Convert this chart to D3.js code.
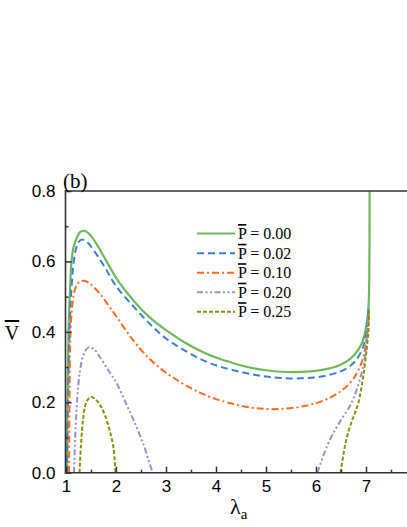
<!DOCTYPE html>
<html><head><meta charset="utf-8">
<script src="https://cdn.jsdelivr.net/npm/d3@7"></script>
<style>body{margin:0;background:#fff}svg{display:block}</style>
</head><body>
<script>
// ---- data ----
const seriesNames = ["0.00", "0.02", "0.10", "0.20", "0.25"];
const p000 = [[1.02,0],[1.03,0.2],[1.05,0.4],[1.08,0.52],[1.11,0.6],[1.15,0.64],[1.21,0.665],[1.28,0.683],[1.36,0.687],[1.45,0.68],[1.6,0.652],[1.8,0.603],[2.0,0.554],[2.25,0.506],[2.5,0.465],[2.75,0.432],[3.0,0.405],[3.35,0.372],[3.7,0.345],[4.0,0.327],[4.35,0.311],[4.7,0.298],[5.0,0.291],[5.4,0.286],[5.9,0.288],[6.2,0.294],[6.48,0.306],[6.7,0.325],[6.85,0.35],[6.95,0.38],[7.02,0.43],[7.05,0.47],[7.065,0.55],[7.07,0.65],[7.072,0.82]];
const p002 = [[1.02,0],[1.04,0.2],[1.07,0.4],[1.1,0.5],[1.14,0.58],[1.19,0.63],[1.25,0.655],[1.33,0.662],[1.42,0.655],[1.6,0.622],[1.8,0.578],[2.0,0.53],[2.35,0.472],[2.68,0.422],[3.0,0.381],[3.35,0.349],[3.7,0.322],[4.0,0.305],[4.35,0.291],[4.7,0.28],[5.0,0.273],[5.3,0.269],[5.7,0.268],[6.1,0.273],[6.48,0.287],[6.7,0.305],[6.85,0.33],[6.95,0.36],[7.01,0.4],[7.04,0.44],[7.055,0.47]];
const p010 = [[1.06,0],[1.07,0.2],[1.09,0.4],[1.13,0.48],[1.19,0.525],[1.27,0.542],[1.36,0.545],[1.45,0.54],[1.55,0.528],[1.68,0.508],[1.85,0.475],[2.0,0.445],[2.35,0.375],[2.68,0.322],[3.0,0.284],[3.35,0.252],[3.7,0.226],[4.0,0.209],[4.35,0.195],[4.7,0.185],[5.0,0.181],[5.3,0.181],[5.68,0.187],[6.1,0.202],[6.48,0.23],[6.7,0.258],[6.85,0.292],[6.95,0.33],[7.01,0.38],[7.05,0.43],[7.06,0.46]];
const p020a = [[1.16,0],[1.19,0.12],[1.23,0.22],[1.28,0.29],[1.35,0.335],[1.45,0.356],[1.55,0.352],[1.68,0.328],[1.85,0.29],[2.01,0.255],[2.2,0.197],[2.35,0.15],[2.55,0.08],[2.73,0]];
const p020b = [[6.03,0],[6.15,0.05],[6.3,0.1],[6.48,0.145],[6.68,0.19],[6.8,0.23],[6.91,0.282],[6.98,0.33],[7.01,0.377],[7.05,0.44],[7.06,0.47]];
const p025a = [[1.27,0],[1.3,0.08],[1.34,0.15],[1.38,0.188],[1.44,0.208],[1.51,0.215],[1.6,0.207],[1.7,0.187],[1.78,0.163],[1.87,0.122],[1.95,0.07],[1.99,0]];
const p025b = [[6.49,0],[6.6,0.09],[6.7,0.14],[6.78,0.17],[6.85,0.2],[6.93,0.26],[6.98,0.311],[7.02,0.36],[7.05,0.405],[7.06,0.46]];
const xMajorTicks = [1,2,3,4,5,6,7];
const xMinorTicks = [1.5,2.5,3.5,4.5,5.5,6.5,7.5];
const yMajorTicks = [0.0,0.2,0.4,0.6,0.8];
const yMinorTicks = [0.1,0.3,0.5,0.7];

const styles = [
  {color:"#6db85a", dash:null, w:2.2},
  {color:"#3b80d0", dash:"7,4", w:2},
  {color:"#ff6a1c", dash:"7,3,2,3", w:2},
  {color:"#9292d2", dash:"6,2.5,2,2.5,2,2.5", w:2},
  {color:"#8c8c10", dash:"4,2", w:2}
];
const curves = [[p000],[p002],[p010],[p020a,p020b],[p025a,p025b]];

const W=407,H=527;
const svg=d3.select("body").append("svg").attr("width",W).attr("height",H);
const x=d3.scaleLinear().domain([1,7.8]).range([66,406]);
const y=d3.scaleLinear().domain([0,0.8]).range([472.7,191]);

svg.append("clipPath").attr("id","clip").append("rect")
  .attr("x",66).attr("y",191).attr("width",W-66).attr("height",472.7-191);

const line=d3.line().x(d=>x(d[0])).y(d=>y(d[1])).curve(d3.curveCatmullRom.alpha(0.5));
const g=svg.append("g").attr("clip-path","url(#clip)");
curves.forEach((segs,i)=>{
  segs.forEach(s=>{
    g.append("path").attr("d",line(s)).attr("fill","none")
      .attr("stroke",styles[i].color).attr("stroke-width",styles[i].w)
      .attr("stroke-dasharray",styles[i].dash);
  });
});

// axes
const axisColor="#333";
const ax=svg.append("g").attr("transform","translate(0,472.7)")
  .call(d3.axisBottom(x).tickValues(xMajorTicks).tickFormat(d3.format("d")).tickSize(-6).tickPadding(12));
const axm=svg.append("g").attr("transform","translate(0,472.7)")
  .call(d3.axisBottom(x).tickValues(xMinorTicks).tickFormat("").tickSize(-3));
const ay=svg.append("g").attr("transform","translate(65.5,0)")
  .call(d3.axisLeft(y).tickValues(yMajorTicks).tickFormat(d3.format(".1f")).tickSize(-6).tickPadding(10));
const aym=svg.append("g").attr("transform","translate(65.5,0)")
  .call(d3.axisLeft(y).tickValues(yMinorTicks).tickFormat("").tickSize(-3));
[ax,axm,ay,aym].forEach(a=>{
  a.select(".domain").remove();
  a.selectAll(".tick line").attr("stroke",axisColor).attr("stroke-width",1.5);
  a.selectAll("text").attr("font-family","'Liberation Sans', Arial, sans-serif").attr("font-size",17).attr("fill","#000");
});
ax.selectAll(".tick text").attr("dy","0.71em").attr("y",7);
// frame lines
svg.append("line").attr("x1",65.5).attr("x2",65.5).attr("y1",190.3).attr("y2",473.4).attr("stroke",axisColor).attr("stroke-width",1.6);
svg.append("line").attr("x1",64.8).attr("x2",W).attr("y1",191).attr("y2",191).attr("stroke",axisColor).attr("stroke-width",1.6);
svg.append("line").attr("x1",64.8).attr("x2",W).attr("y1",472.7).attr("y2",472.7).attr("stroke",axisColor).attr("stroke-width",1.6);

// legend
const legY=[233.5,253.3,272.7,292.2,311.7];
const leg=svg.append("g");
seriesNames.forEach((n,i)=>{
  leg.append("line").attr("x1",197).attr("x2",235).attr("y1",legY[i]).attr("y2",legY[i])
    .attr("stroke",styles[i].color).attr("stroke-width",styles[i].w).attr("stroke-dasharray",styles[i].dash);
  const t=leg.append("text").attr("x",238).attr("y",legY[i]+5.5)
    .attr("font-family","'Liberation Serif','Times New Roman',serif").attr("font-size",16).attr("fill","#000");
  t.append("tspan").attr("style","text-decoration:overline").text("P");
  t.append("tspan").text(" = "+n);
});

// labels
svg.append("text").attr("x",63).attr("y",188).attr("font-family","'Liberation Serif','Times New Roman',serif")
  .attr("font-size",21).text("(b)");
svg.append("text").attr("x",12).attr("y",340).attr("text-anchor","middle")
  .attr("font-family","'Liberation Serif','Times New Roman',serif").attr("font-size",20)
  .append("tspan").attr("style","text-decoration:overline").text("V");
const xl=svg.append("text").attr("x",230).attr("y",514)
  .attr("font-family","'Liberation Serif','Times New Roman',serif").attr("font-size",22);
xl.append("tspan").text("λ");
xl.append("tspan").attr("font-size",15).attr("dy",5).text("a");
</script>
</body></html>
